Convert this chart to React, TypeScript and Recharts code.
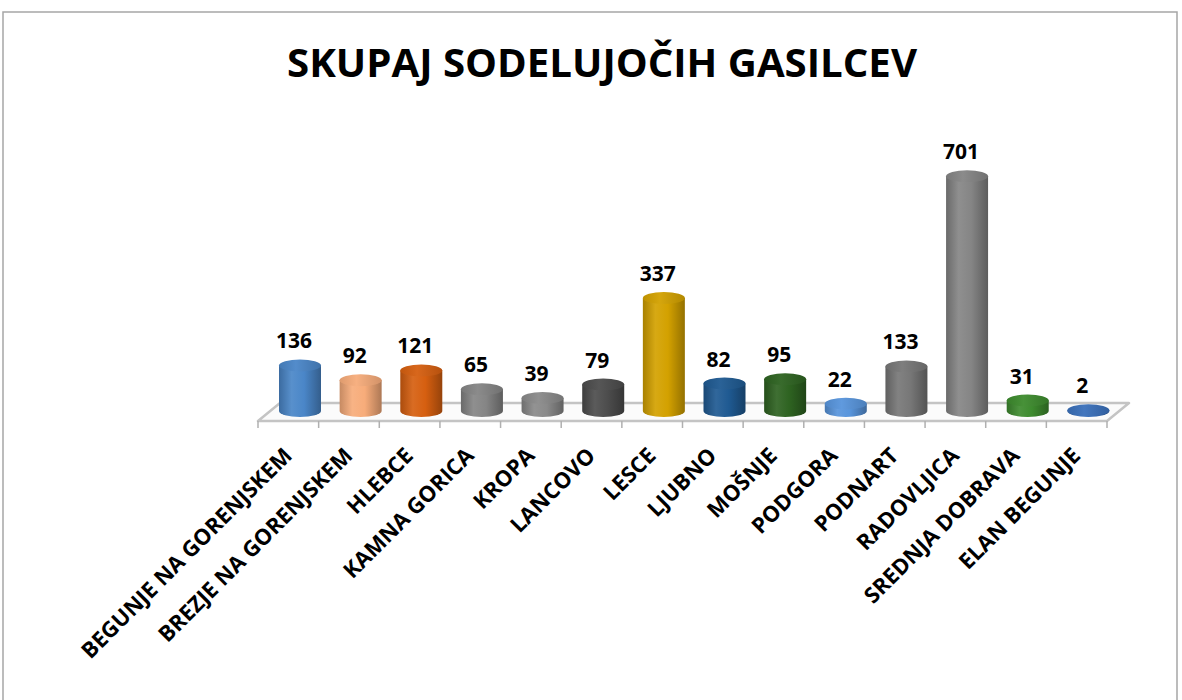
import React from 'react';
import { BarChart, Bar, XAxis, YAxis, Cell, LabelList } from 'recharts';

const categories = [
  'BEGUNJE NA GORENJSKEM',
  'BREZJE NA GORENJSKEM',
  'HLEBCE',
  'KAMNA GORICA',
  'KROPA',
  'LANCOVO',
  'LESCE',
  'LJUBNO',
  'MOŠNJE',
  'PODGORA',
  'PODNART',
  'RADOVLJICA',
  'SREDNJA DOBRAVA',
  'ELAN BEGUNJE',
];

const values = [136, 92, 121, 65, 39, 79, 337, 82, 95, 22, 133, 701, 31, 2];

const colors = [
  '#4a86c8', '#f7ac7a', '#d65f10', '#858585', '#8a8a8a', '#4d4d4d', '#d3a100',
  '#1f5a92', '#2e6321', '#5895dc', '#777777', '#858585', '#3d8b2e', '#3a70bb',
];

const data = categories.map((name, i) => ({ name, value: values[i] }));

const W = 1182;
const H = 700;
const LEFT = 258;
const RIGHT = 1107;
const BASE = 411;
const DEPTH = 22;
const SHIFT = 12;
const FONT = '"Open Sans", "Noto Sans", sans-serif';

const shade = (hex: string, k: number) => {
  const n = parseInt(hex.slice(1), 16);
  const c = [(n >> 16) & 255, (n >> 8) & 255, n & 255].map((v) =>
    k >= 1 ? Math.round(v + (255 - v) * (k - 1)) : Math.round(v * k)
  );
  return `rgb(${c[0]},${c[1]},${c[2]})`;
};

const Cylinder = (props: any) => {
  const { x, y, width, height, index } = props;
  const cx = x + width / 2 + SHIFT;
  const rx = width / 2;
  const ry = 6;
  const left = cx - rx;
  const right = cx + rx;
  const top = y;
  const bottom = y + height;
  const body = `M${left},${top} L${left},${bottom} A${rx},${ry} 0 0 0 ${right},${bottom} L${right},${top} Z`;
  return (
    <g>
      <path d={body} fill={`url(#cyl${index})`} />
      <ellipse cx={cx} cy={top} rx={rx} ry={ry} fill={`url(#cap${index})`} />
    </g>
  );
};

const ValueLabel = (props: any) => {
  const { x, y, width, value } = props;
  return (
    <text
      x={x + width / 2 + SHIFT - 6}
      y={y - 17}
      textAnchor="middle"
      fontFamily={FONT}
      fontWeight={700}
      fontSize={21}
      fill="#000"
    >
      {value}
    </text>
  );
};

const CategoryTick = (props: any) => {
  const { x, payload } = props;
  const ax = x + 5;
  const ay = 457;
  return (
    <text
      x={ax}
      y={ay}
      textAnchor="end"
      transform={`rotate(-45, ${ax}, ${ay})`}
      fontFamily={FONT}
      fontWeight={700}
      fontSize={22}
      fill="#000"
    >
      {payload.value}
    </text>
  );
};

export default function App() {
  const step = (RIGHT - LEFT) / categories.length;
  const ticks = Array.from({ length: categories.length + 1 }, (_, i) => LEFT + i * step);
  return (
    <div style={{ position: 'absolute', left: 0, top: 0, width: W, height: H, background: '#fff' }}>
      <svg width={W} height={H} style={{ position: 'absolute', left: 0, top: 0 }}>
        <defs>
          {colors.map((c, i) => (
            <React.Fragment key={i}>
              <linearGradient id={`cyl${i}`} x1="0" y1="0" x2="1" y2="0">
                <stop offset="0%" stopColor={shade(c, 0.8)} />
                <stop offset="30%" stopColor={shade(c, 1.08)} />
                <stop offset="60%" stopColor={c} />
                <stop offset="100%" stopColor={shade(c, 0.7)} />
              </linearGradient>
              <linearGradient id={`cap${i}`} x1="0" y1="0" x2="1" y2="0">
                <stop offset="0%" stopColor={shade(c, 0.9)} />
                <stop offset="40%" stopColor={shade(c, 1.05)} />
                <stop offset="100%" stopColor={shade(c, 0.85)} />
              </linearGradient>
            </React.Fragment>
          ))}
        </defs>
        <rect x={3} y={12} width={1174} height={700} fill="#fff" stroke="#a6a6a6" strokeWidth={1.5} />
        <text
          x={602}
          y={77}
          textAnchor="middle"
          fontFamily={FONT}
          fontWeight={700}
          fontSize={40}
          textLength={630}
          lengthAdjust="spacingAndGlyphs"
          fill="#000"
        >
          SKUPAJ SODELUJOČIH GASILCEV
        </text>
        <polygon
          points={`${LEFT},421 ${RIGHT},421 ${RIGHT + DEPTH},403 ${LEFT + DEPTH},403`}
          fill="#fbfbfb"
          stroke="#c4c4c4"
          strokeWidth={2.5}
          strokeLinejoin="round"
        />
        {ticks.map((tx, i) => (
          <line key={i} x1={tx} y1={421} x2={tx} y2={428} stroke="#b0b0b0" strokeWidth={1.5} />
        ))}
      </svg>
      <div style={{ position: 'absolute', left: 0, top: 0 }}>
        <BarChart
          width={W}
          height={H}
          data={data}
          margin={{ top: 143, right: W - RIGHT, left: LEFT, bottom: 0 }}
        >
          <XAxis
            dataKey="name"
            height={H - BASE}
            axisLine={false}
            tickLine={false}
            interval={0}
            tick={<CategoryTick />}
          />
          <YAxis hide width={0} domain={[0, 800]} />
          <Bar dataKey="value" barSize={42} shape={<Cylinder />} isAnimationActive={false}>
            {data.map((d, i) => (
              <Cell key={d.name} fill={colors[i]} />
            ))}
            <LabelList dataKey="value" content={<ValueLabel />} />
          </Bar>
        </BarChart>
      </div>
    </div>
  );
}
